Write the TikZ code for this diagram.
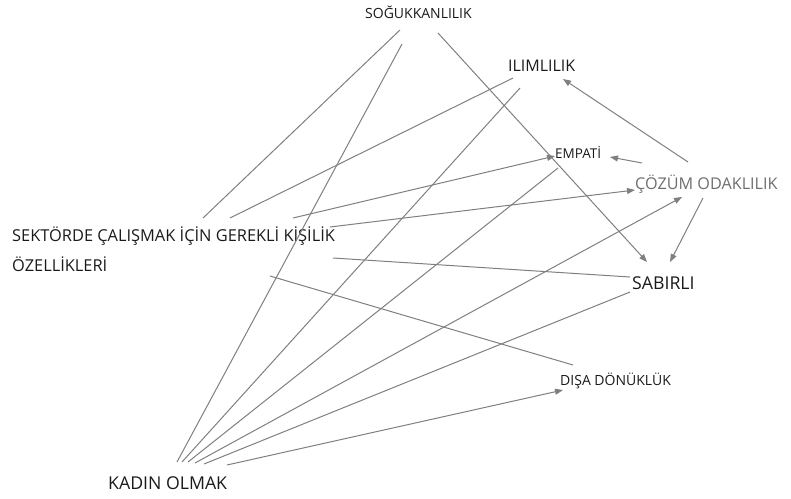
\documentclass[tikz,border=0pt]{standalone}
\usepackage{fontspec}
\setmainfont{Open Sans}
\usetikzlibrary{arrows.meta}
\definecolor{txt}{HTML}{1A1A1A}
\definecolor{txtgray}{HTML}{6E6E6E}
\definecolor{lc}{HTML}{7F7F7F}
\begin{document}
\begin{tikzpicture}[x=1pt,y=-1pt,
  lab/.style={inner sep=0pt, text=txt, anchor=base west},
  conn/.style={draw=lc, line width=1pt},
  arr/.style={conn, -{Triangle[length=8pt,width=6pt]}}]
\useasboundingbox (0,0) rectangle (791,498);
% nodes
\node[lab, font=\fontsize{14}{16}\selectfont] (sog) at (365,18) {SOĞUKKANLILIK};
\node[lab, font=\fontsize{16}{18}\selectfont] (ilim) at (508,71) {ILIMLILIK};
\node[lab, font=\fontsize{13.5}{16}\selectfont] (emp) at (555,158) {EMPATİ};
\node[lab, text=txtgray, font=\fontsize{16.2}{20}\selectfont] (coz) at (635,189.5) {ÇÖZÜM ODAKLILIK};
\node[lab, anchor=north west, align=left, font=\fontsize{16.4}{30}\selectfont] (sek) at (12,226.5) {SEKTÖRDE ÇALIŞMAK İÇİN GEREKLİ KİŞİLİK\\ÖZELLİKLERİ};
\node[lab, font=\fontsize{17.7}{20}\selectfont] (sab) at (632,289.5) {SABIRLI};
\node[lab, font=\fontsize{14}{16}\selectfont] (disa) at (560,385) {DIŞA DÖNÜKLÜK};
\node[lab, font=\fontsize{17.7}{20}\selectfont] (kadin) at (108,489.5) {KADIN OLMAK};
% connector end points
\coordinate (sogA) at (400,30);  \coordinate (sekA) at (203,218);
\coordinate (sogB) at (402,44);  \coordinate (kadA) at (177,462);
\coordinate (sogC) at (438,33);  \coordinate (sabA) at (647,262);
\coordinate (ilimA) at (513,78); \coordinate (sekB) at (230,218);
\coordinate (ilimB) at (520,88); \coordinate (kadB) at (182,462);
\coordinate (sekC) at (293,218); \coordinate (empA) at (555,156);
\coordinate (sekD) at (330,227); \coordinate (cozA) at (635,190);
\coordinate (empB) at (558,168); \coordinate (kadC) at (188,462);
\coordinate (sekE) at (333,258); \coordinate (sabB) at (630,277);
\coordinate (sekF) at (270,276); \coordinate (disaA) at (573,365);
\coordinate (sabC) at (630,292); \coordinate (kadD) at (204,464);
\coordinate (kadE) at (195,463); \coordinate (cozB) at (682,197);
\coordinate (cozC) at (703,198); \coordinate (sabD) at (670,262);
\coordinate (cozD) at (642,163); \coordinate (empC) at (610,157);
\coordinate (cozE) at (688,162); \coordinate (ilimC) at (563,79);
\coordinate (kadF) at (227,465); \coordinate (disaB) at (563,390);
% connectors
\draw[conn] (sogA) -- (sekA);
\draw[conn] (sogB) -- (kadA);
\draw[arr] (sogC) -- (sabA);
\draw[conn] (ilimA) -- (sekB);
\draw[conn] (ilimB) -- (kadB);
\draw[arr] (sekC) -- (empA);
\draw[arr] (sekD) -- (cozA);
\draw[conn] (empB) -- (kadC);
\draw[conn] (sekE) -- (sabB);
\draw[conn] (sekF) -- (disaA);
\draw[conn] (sabC) -- (kadD);
\draw[arr] (kadE) -- (cozB);
\draw[arr] (cozC) -- (sabD);
\draw[arr] (cozD) -- (empC);
\draw[arr] (cozE) -- (ilimC);
\draw[arr] (kadF) -- (disaB);
\end{tikzpicture}
\end{document}
